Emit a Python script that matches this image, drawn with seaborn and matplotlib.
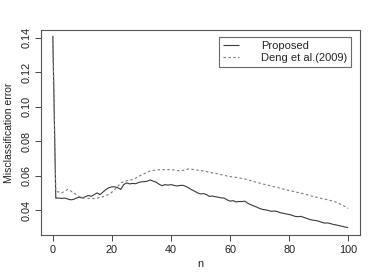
import numpy as np
import pandas as pd
import matplotlib
matplotlib.use("Agg")
import matplotlib.pyplot as plt
import seaborn as sns

n = list(range(0, 101))
proposed = [
    0.141, 0.047, 0.047, 0.0468, 0.047, 0.0465, 0.046, 0.0462, 0.047, 0.0475,
    0.047, 0.0478, 0.0485, 0.048, 0.049, 0.050, 0.049, 0.0505, 0.052, 0.053,
    0.0535, 0.0535, 0.053, 0.052, 0.0548, 0.0558, 0.0552, 0.0555, 0.0553, 0.056,
    0.0564, 0.0565, 0.0568, 0.0575, 0.0568, 0.0562, 0.055, 0.0542, 0.0548, 0.0545,
    0.0548, 0.0544, 0.0540, 0.0543, 0.0544, 0.0538, 0.0529, 0.0518, 0.051, 0.050,
    0.0494, 0.0496, 0.049, 0.048, 0.0482, 0.0478, 0.0475, 0.0471, 0.047, 0.046,
    0.0452, 0.0455, 0.0448, 0.045, 0.045, 0.0452, 0.044, 0.0432, 0.0425, 0.0418,
    0.041, 0.0404, 0.0402, 0.0398, 0.0393, 0.0395, 0.0392, 0.0385, 0.0382, 0.0378,
    0.0375, 0.037, 0.0364, 0.0362, 0.0364, 0.0358, 0.0352, 0.0346, 0.0342, 0.034,
    0.0336, 0.033, 0.0325, 0.0326, 0.0322, 0.0317, 0.0314, 0.031, 0.0306, 0.0302,
    0.0299,
]
deng = [
    0.141, 0.051, 0.0505, 0.050, 0.051, 0.052, 0.0512, 0.050, 0.049, 0.0478,
    0.047, 0.0472, 0.0468, 0.047, 0.0466, 0.047, 0.0472, 0.0478, 0.0485, 0.0492,
    0.0504, 0.052, 0.0538, 0.0558, 0.0565, 0.057, 0.0574, 0.0577, 0.0585, 0.0595,
    0.0604, 0.0612, 0.062, 0.0627, 0.063, 0.0633, 0.0634, 0.0635, 0.0634, 0.0635,
    0.0635, 0.0633, 0.063, 0.0627, 0.063, 0.0634, 0.0639, 0.0637, 0.0635, 0.0632,
    0.063, 0.0627, 0.0624, 0.062, 0.0616, 0.0613, 0.061, 0.0606, 0.0602, 0.0598,
    0.0595, 0.0592, 0.059, 0.0587, 0.0584, 0.0581, 0.0576, 0.0571, 0.0566, 0.0561,
    0.0557, 0.0552, 0.0548, 0.0544, 0.054, 0.0535, 0.0531, 0.0527, 0.0522, 0.0518,
    0.0514, 0.051, 0.0506, 0.0502, 0.0498, 0.0494, 0.049, 0.0485, 0.048, 0.0476,
    0.0472, 0.0468, 0.0464, 0.046, 0.0456, 0.0452, 0.0445, 0.0437, 0.043, 0.042,
    0.041,
]
series_names = ["Proposed", "Deng et al.(2009)"]
x_ticks = [0, 20, 40, 60, 80, 100]
y_ticks = [0.04, 0.06, 0.08, 0.10, 0.12, 0.14]
y_tick_labels = ["0.04", "0.06", "0.08", "0.10", "0.12", "0.14"]

df = pd.DataFrame({
    "n": n * 2,
    "err": proposed + deng,
    "method": [series_names[0]] * len(n) + [series_names[1]] * len(n),
})

sns.set_theme(style="ticks")
plt.rcParams["font.family"] = ["Liberation Sans", "DejaVu Sans"]

fig = plt.figure(figsize=(3.82, 2.73), dpi=100)
ax = fig.add_axes([41 / 382, 38 / 273, 319 / 382, 205 / 273])

sns.lineplot(
    data=df, x="n", y="err", hue="method", style="method",
    palette={series_names[0]: "#3a3a3a", series_names[1]: "#7a7a7a"},
    dashes={series_names[0]: (1, 0), series_names[1]: (2.2, 2.2)},
    linewidth=0.8, ax=ax, legend=True,
)

ax.set_xlim(-4, 104)
ax.set_ylim(0.0256, 0.1444)
ax.set_xticks(x_ticks)
ax.set_xticklabels([str(t) for t in x_ticks])
ax.set_yticks(y_ticks)
ax.set_yticklabels(y_tick_labels, rotation=90, va="center")
ax.tick_params(axis="both", labelsize=7.8, length=4, width=0.7, color="#444444",
               direction="out", pad=3, labelcolor="#222222")
ax.set_xlabel("n", fontsize=7.8, color="#222222", labelpad=3)
ax.set_ylabel("Misclassification error", fontsize=7.5, color="#222222", labelpad=5)
for s in ax.spines.values():
    s.set_visible(True)
    s.set_color("#555555")
    s.set_linewidth(0.8)

leg = ax.legend(
    loc="upper right", bbox_to_anchor=(0.9727, 0.9644), borderaxespad=0,
    fontsize=8, frameon=True, fancybox=False, handlelength=1.4,
    handletextpad=2.0, borderpad=0.35, labelspacing=0.15,
)
leg.get_frame().set_edgecolor("#444444")
leg.get_frame().set_linewidth(0.8)

fig.savefig("out.png", dpi=100)
